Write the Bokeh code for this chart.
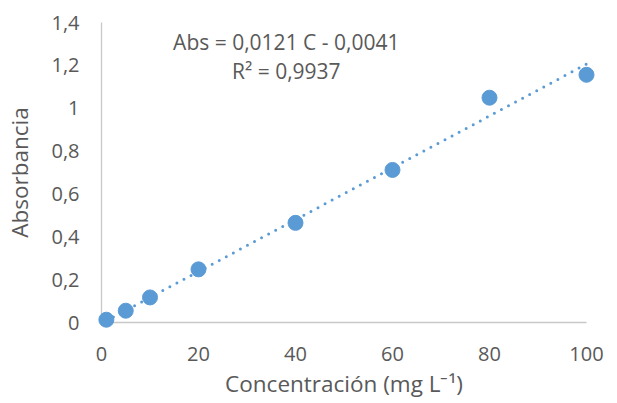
from bokeh.plotting import figure
from bokeh.models import FixedTicker, Label
from bokeh.embed import file_html
from bokeh.resources import INLINE

# Calibration standards: concentration (mg/L) and measured absorbance
concentration = [1, 5, 10, 20, 40, 60, 80, 100]
absorbance = [0.013, 0.055, 0.117, 0.248, 0.465, 0.712, 1.049, 1.156]

# Linear fit reported for the calibration curve
slope = 0.0121
intercept = -0.0041
r_squared = 0.9937

x_ticks = [0, 20, 40, 60, 80, 100]
y_ticks = [0, 0.2, 0.4, 0.6, 0.8, 1.0, 1.2, 1.4]
y_tick_labels = ["0", "0,2", "0,4", "0,6", "0,8", "1", "1,2", "1,4"]

BLUE = "#5b9bd5"
TEXT = "#595959"
AXIS = "#c8c8c8"
FONT = "Open Sans"

p = figure(width=617, height=403, x_range=(0, 100), y_range=(0, 1.4),
           output_backend="svg", toolbar_location=None,
           min_border_left=101, min_border_right=31,
           min_border_top=22, min_border_bottom=81)
p.outline_line_color = None
p.grid.grid_line_color = None
p.background_fill_color = "white"
p.border_fill_color = "white"

for ax in (p.xaxis[0], p.yaxis[0]):
    ax.axis_line_color = AXIS
    ax.axis_line_width = 1.3
    ax.major_tick_line_color = None
    ax.minor_tick_line_color = None
    ax.major_tick_out = 0
    ax.major_tick_in = 0
    ax.major_label_text_font = FONT
    ax.major_label_text_font_size = "20px"
    ax.major_label_text_color = TEXT
    ax.axis_label_text_font = FONT
    ax.axis_label_text_font_size = "22.5px"
    ax.axis_label_text_font_style = "normal"
    ax.axis_label_text_color = TEXT

p.xaxis.ticker = FixedTicker(ticks=x_ticks)
p.yaxis.ticker = FixedTicker(ticks=y_ticks)
p.yaxis.major_label_overrides = {t: s for t, s in zip(y_ticks, y_tick_labels)}
p.xaxis.major_label_standoff = 24
p.yaxis.major_label_standoff = 22
p.xaxis.axis_label = "Concentración (mg L⁻¹)"
p.yaxis.axis_label = "Absorbancia"
p.xaxis.axis_label_standoff = 4
p.yaxis.axis_label_standoff = 13

# dotted linear trendline over the measured range
fit_x = [min(concentration), max(concentration)]
fit_y = [slope * c + intercept for c in fit_x]
p.line(fit_x, fit_y, line_color=BLUE, line_width=3,
       line_dash="0 8", line_cap="round", level="overlay")

p.scatter(concentration, absorbance, size=15, marker="circle",
          fill_color=BLUE, line_color=BLUE, level="overlay")


def fmt(v, digits=4):
    return f"{abs(v):.{digits}f}".replace(".", ",")


sign = "-" if intercept < 0 else "+"
eq_text = f"Abs = {fmt(slope)} C {sign} {fmt(intercept)}"
r2_text = f"R² = {fmt(r_squared)}"

p.add_layout(Label(x=38.1, y=1.31, text=eq_text, text_align="center",
                   text_baseline="alphabetic", text_font=FONT,
                   text_font_size="21px", text_color=TEXT))
p.add_layout(Label(x=38.1, y=1.173, text=r2_text, text_align="center",
                   text_baseline="alphabetic", text_font=FONT,
                   text_font_size="21px", text_color=TEXT))

open("out.html", "w").write(file_html(p, INLINE))
